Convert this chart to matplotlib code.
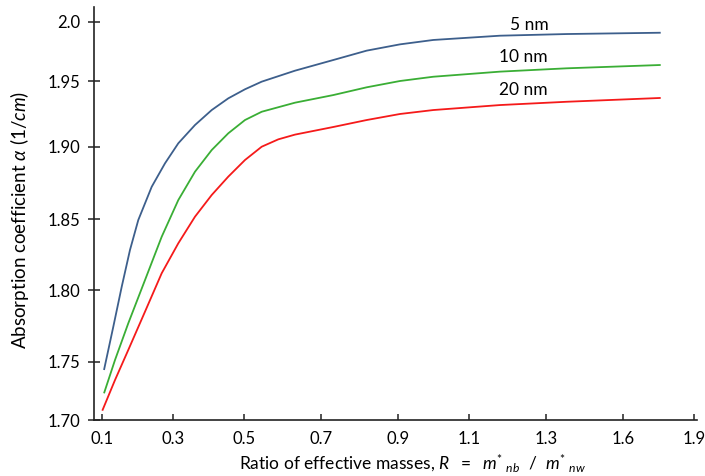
import numpy as np
import matplotlib
matplotlib.use("Agg")
import matplotlib.pyplot as plt

plt.rcParams['font.family'] = ['Lato', 'DejaVu Sans']
plt.rcParams['mathtext.fontset'] = 'custom'
plt.rcParams['mathtext.rm'] = 'Lato'
plt.rcParams['mathtext.it'] = 'Lato:italic'

# ---- data ----
ratio_5nm = [0.1048, 0.1310, 0.1547, 0.1780, 0.2014, 0.2392, 0.2766, 0.3141,
             0.3611, 0.4082, 0.4549, 0.5018, 0.5454, 0.6322, 0.7318, 0.8182,
             0.9048, 0.9986, 1.1801, 1.3810, 1.7599]
alpha_5nm = [1.7429, 1.7744, 1.8023, 1.8282, 1.8493, 1.8723, 1.8885, 1.9026,
             1.9165, 1.9279, 1.9368, 1.9437, 1.9495, 1.9587, 1.9677, 1.9756,
             1.9809, 1.9846, 1.9882, 1.9896, 1.9907]

ratio_10nm = [0.1048, 0.1358, 0.1732, 0.2203, 0.2673, 0.3141, 0.3611, 0.4082,
              0.4549, 0.5018, 0.5454, 0.6322, 0.7318, 0.8182, 0.9048, 0.9986,
              1.1801, 1.3810, 1.7599]
alpha_10nm = [1.7229, 1.7512, 1.7768, 1.8070, 1.8375, 1.8631, 1.8827, 1.8977,
              1.9102, 1.9203, 1.9266, 1.9335, 1.9393, 1.9452, 1.9500, 1.9536,
              1.9579, 1.9607, 1.9635]

ratio_20nm = [0.1000, 0.1358, 0.1732, 0.2203, 0.2673, 0.3141, 0.3611, 0.4082,
              0.4549, 0.5018, 0.5454, 0.5887, 0.6322, 0.7318, 0.8182, 0.9048,
              0.9986, 1.1801, 1.3810, 1.7599]
alpha_20nm = [1.7080, 1.7343, 1.7582, 1.7849, 1.8118, 1.8329, 1.8516, 1.8666,
              1.8793, 1.8908, 1.9000, 1.9056, 1.9092, 1.9150, 1.9203, 1.9249,
              1.9279, 1.9317, 1.9342, 1.9371]

series_labels = ['5 nm', '10 nm', '20 nm']
colors = ['#3D5F8C', '#3AAE35', '#F51A1A']

x_ticks = [0.1, 0.3, 0.5, 0.7, 0.9, 1.1, 1.3, 1.6, 1.9]
x_ticklabels = ['0.1', '0.3', '0.5', '0.7', '0.9', '1.1', '1.3', '1.6', '1.9']
y_ticks = [1.70, 1.75, 1.80, 1.85, 1.90, 1.95, 2.0]
y_ticklabels = ['1.70', '1.75', '1.80', '1.85', '1.90', '1.95', '2.0']

# ---- axis scales (piecewise linear, as in the original figure) ----
W, H = 705, 476
x_anchor_v = np.array([-0.9] + x_ticks + [2.9])
x_anchor_p = np.array([-252.7, 102.3, 173.3, 244.3, 321.0, 398.3, 469.3,
                       546.0, 622.7, 694.0, 931.7])
y_anchor_v = np.array([1.60] + y_ticks + [2.10])
y_anchor_p = -np.array([536.6, 420.0, 361.7, 290.0, 219.0, 146.7, 81.0, 21.7, -96.9])

def xf(v):
    return np.interp(v, x_anchor_v, x_anchor_p)

def xi(p):
    return np.interp(p, x_anchor_p, x_anchor_v)

def yf(v):
    return np.interp(v, y_anchor_v, y_anchor_p)

def yi(p):
    return np.interp(p, y_anchor_p, y_anchor_v)

left, right, top, bottom = 94.3, 697.0, 7.0, 420.0
fig = plt.figure(figsize=(W / 100, H / 100), dpi=100)
ax = fig.add_axes([left / W, 1 - bottom / H, (right - left) / W, (bottom - top) / H])
ax.set_xscale('function', functions=(xf, xi))
ax.set_yscale('function', functions=(yf, yi))

for xs, ys, c in zip([ratio_5nm, ratio_10nm, ratio_20nm],
                     [alpha_5nm, alpha_10nm, alpha_20nm], colors):
    ax.plot(xs, ys, color=c, lw=1.3, solid_capstyle='butt', solid_joinstyle='round')

ax.set_xlim(float(xi(left)), float(xi(right)))
ax.set_ylim(float(yi(-bottom)), float(yi(-top)))

ax.set_xticks(x_ticks)
ax.set_xticklabels(x_ticklabels)
ax.set_yticks(y_ticks)
ax.set_yticklabels(y_ticklabels)
ax.minorticks_off()

for s in ['top', 'right']:
    ax.spines[s].set_visible(False)
for s in ['left', 'bottom']:
    ax.spines[s].set_linewidth(1.2)
    ax.spines[s].set_color('#222222')

ax.tick_params(axis='y', direction='inout', length=8, width=1.1, pad=6,
               labelsize=12, colors='#222222', labelcolor='black')
ax.tick_params(axis='x', direction='in', length=4, width=1.1, pad=8,
               labelsize=12, colors='#222222', labelcolor='black')

# series labels
ax.text(1.256, 1.9930, series_labels[0], ha='center', va='baseline', fontsize=12.5)
ax.text(1.240, 1.9663, series_labels[1], ha='center', va='baseline', fontsize=12.5)
ax.text(1.240, 1.9393, series_labels[2], ha='center', va='baseline', fontsize=12.5)

ax.set_xlabel(r'Ratio of effective masses, $\mathit{R\ \ =\ \ m^{*}{}_{\ nb}\ \ /\ \ m^{*}{}_{\ nw}}$',
              fontsize=12.5)
ax.xaxis.set_label_coords(0.528, -0.078)
ax.set_ylabel(r'Absorption coefficient $\mathit{\alpha\ (1/cm)}$', fontsize=13.5)
ax.yaxis.set_label_coords(-0.105, 0.484)

fig.savefig('out.png', dpi=100)
